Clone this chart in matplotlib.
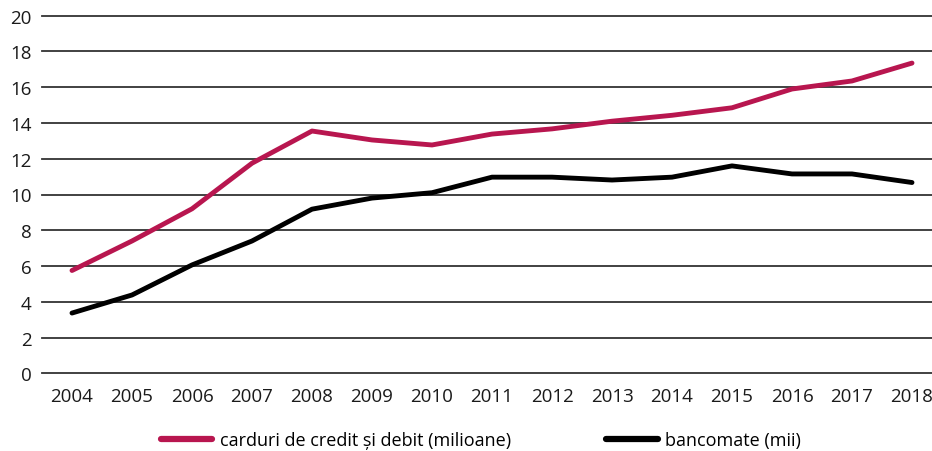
import matplotlib
matplotlib.use("Agg")
import matplotlib.pyplot as plt

years = list(range(2004, 2019))
carduri = [5.75, 7.4, 9.2, 11.75, 13.55, 13.05, 12.77, 13.38, 13.67, 14.1, 14.43, 14.85, 15.9, 16.35, 17.35]
bancomate = [3.37, 4.38, 6.06, 7.4, 9.18, 9.8, 10.1, 10.97, 10.97, 10.81, 10.97, 11.6, 11.15, 11.15, 10.67]
yticks = list(range(0, 21, 2))
label_carduri = "carduri de credit și debit (milioane)"
label_bancomate = "bancomate (mii)"

plt.rcParams['font.family'] = ['Open Sans', 'DejaVu Sans']

fig = plt.figure(figsize=(9.32, 4.52), dpi=100)
ax = fig.add_axes([42/932, 77.7/452, 1 - 42/932, (374.3-16.7)/452])

pink = "#B8164F"
l1, = ax.plot(years, carduri, color=pink, lw=3.5, solid_capstyle='round', solid_joinstyle='round', label=label_carduri, zorder=3)
l2, = ax.plot(years, bancomate, color="black", lw=3.5, solid_capstyle='round', solid_joinstyle='round', label=label_bancomate, zorder=3)

ax.set_ylim(0, 20)
ax.set_xlim(2003.5, 2003.5 + (932-42)/60.0)
ax.set_yticks(yticks)
ax.set_xticks(years)
for y in yticks:
    ax.axhline(y, color="#333333", lw=1.3, zorder=1, clip_on=False)
for s in ax.spines.values():
    s.set_visible(False)
ax.tick_params(axis='both', length=0, labelsize=13.5, colors="#1a1a1a")
ax.tick_params(axis='y', pad=7.5)
ax.tick_params(axis='x', pad=10)

leg = fig.legend(handles=[l1, l2], loc='center', bbox_to_anchor=(481/932, 1 - 441/452),
                 ncol=2, frameon=False, fontsize=13, handlelength=2.85,
                 handletextpad=0.4, columnspacing=5.3)
for h in leg.get_lines():
    h.set_linewidth(4.5)
    h.set_solid_capstyle('round')

fig.savefig("out.png", dpi=100)
